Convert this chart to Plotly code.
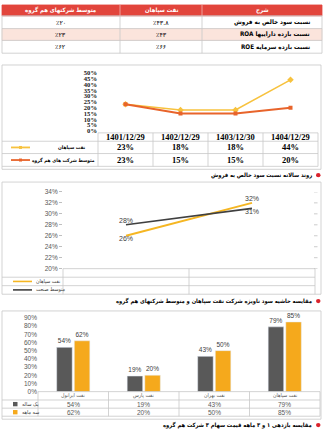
import plotly.graph_objects as go

W, H = 323, 433

# ---------------- data ----------------
table_header = ["شرح", "نفت سپاهان", "متوسط شرکتهای هم گروه"]
table_items = ["نسبت سود خالص به فروش", "نسبت بازده داراییها ROA", "نسبت بازده سرمایه ROE"]
table_sepahan = ["٪۴۳.۸", "٪۴۳", "٪۶۶"]
table_group = ["٪۲۰", "٪۲۳", "٪۶۲"]

c1_periods = ["1401/12/29", "1402/12/29", "1403/12/30", "1404/12/29"]
c1_names = ["نفت سپاهان", "متوسط شرکت های هم گروه"]
c1_sepahan = [23, 18, 18, 44]
c1_group = [23, 15, 15, 20]

c2_years = ["1401", "1404"]
c2_names = ["نفت سپاهان", "متوسط صنعت"]
c2_sepahan = [26, 32]
c2_industry = [28, 31]
c2_ticks = [20, 22, 24, 26, 28, 30, 32, 34]

c3_companies = ["نفت ایرانول", "نفت پارس", "نفت بهران", "نفت سپاهان"]
c3_names = ["یک ساله", "سه ماهه"]
c3_one_year = [54, 19, 43, 79]
c3_three_month = [62, 20, 50, 85]

captions = [
    "روند سالانه نسبت سود خالص به فروش",
    "مقایسه حاشیه سود ناویژه شرکت نفت سپاهان و متوسط شرکتهای هم گروه",
    "مقایسه بازدهی ۱ و ۳ ماهه قیمت سهام ۳ شرکت هم گروه",
]

# ---------------- style ----------------
FA = "DejaVu Sans"
FAC = "DejaVu Sans Condensed, DejaVu Sans"
SERIF = "Liberation Serif"
SANS = "Liberation Sans"
RED = "#e2453c"
PINK = "#fbe4dc"
GRID = "#c8c8c8"
C1_Y = "#f7c23e"
C1_O = "#e8642b"
C2_Y = "#f5b622"
C2_G = "#404040"
C3_G = "#595959"
C3_O = "#f5a91c"


def X(p):
    return p / W


def Y(p):
    return 1 - p / H


def rtl(s):
    return "\u202b" + s + "\u202c"


shapes = []
ann = []


def hline(x0, x1, y, color=GRID, w=0.8):
    shapes.append(dict(type="line", xref="paper", yref="paper", x0=X(x0), x1=X(x1),
                       y0=Y(y), y1=Y(y), line=dict(color=color, width=w)))


def vline(x, y0, y1, color=GRID, w=0.8):
    shapes.append(dict(type="line", xref="paper", yref="paper", x0=X(x), x1=X(x),
                       y0=Y(y0), y1=Y(y1), line=dict(color=color, width=w)))


def rect(x0, y0, x1, y1, fill="rgba(0,0,0,0)", color=GRID, w=0.8):
    shapes.append(dict(type="rect", xref="paper", yref="paper", x0=X(x0), x1=X(x1),
                       y0=Y(y1), y1=Y(y0), fillcolor=fill, line=dict(color=color, width=w),
                       layer="below"))


def txt(x, y, s, size=7, color="#000", family=FA, xanchor="center", weight="normal", xref="paper"):
    ann.append(dict(x=(X(x) if xref == "paper" else x), y=Y(y), xref=xref, yref="paper",
                    text=s, showarrow=False, xanchor=xanchor, yanchor="middle",
                    font=dict(size=size, color=color, family=family, weight=weight)))


# ---------------- top table ----------------
cols = [2, 120, 202, 322]
rows = [1, 12, 25, 37, 50]
rect(2, 1, 322, 12, fill=RED, color=RED)
rect(2, 25, 322, 37, fill=PINK, color=PINK)
for r in rows[1:]:
    hline(2, 322, r)
for c in cols:
    vline(c, 12, 50)
for c in cols[1:-1]:
    vline(c, 1, 12, color="#f3b5b0")
col_centers = [(cols[3] + cols[2]) / 2, (cols[2] + cols[1]) / 2, (cols[1] + cols[0]) / 2]
for i, h in enumerate(table_header):
    txt(col_centers[i], 6.6, rtl(h), size=6, color="white", weight="bold", family=FAC)
for i, item in enumerate(table_items):
    yc = (rows[i + 1] + rows[i + 2]) / 2
    txt(312, yc, rtl(item), size=6.3, xanchor="right", family=FAC, weight="bold")
    txt(col_centers[1], yc, table_sepahan[i], size=6.3)
    txt(col_centers[2], yc, table_group[i], size=6.3)

# ---------------- chart 1 ----------------
fig = go.Figure()
fig.add_trace(go.Scatter(x=c1_periods, y=c1_sepahan, mode="lines+markers",
                         line=dict(color=C1_Y, width=1.6),
                         marker=dict(symbol="diamond", size=5, color=C1_Y),
                         xaxis="x", yaxis="y", showlegend=False, hoverinfo="skip"))
fig.add_trace(go.Scatter(x=c1_periods, y=c1_group, mode="lines+markers",
                         line=dict(color=C1_O, width=2),
                         marker=dict(symbol="square", size=4, color=C1_O),
                         xaxis="x", yaxis="y", showlegend=False, hoverinfo="skip"))

c1_x0, c1_x1 = 98, 318
rect(2, 62, 321, 168)
hline(c1_x0, c1_x1, 131)
for r in [139.5, 152, 165]:
    hline(2, c1_x1, r)
n1 = len(c1_periods)
for i in range(n1 + 1):
    vline(c1_x0 + i * (c1_x1 - c1_x0) / n1, 131, 165)
for i, p in enumerate(c1_periods):
    txt(p, 135.3, p, size=8.5, family=SERIF, weight="bold", xref="x")
    txt(p, 145.8, f"{c1_sepahan[i]}%", size=8.5, family=SERIF, weight="bold", xref="x")
    txt(p, 158.6, f"{c1_group[i]}%", size=8.5, family=SERIF, weight="bold", xref="x")
for (yc, col, xr, name) in [(145.8, C1_Y, 88, c1_names[0]),
                            (158.6, C1_O, 97, c1_names[1])]:
    hline(11, 30, yc, color=col, w=1.8)
    shapes.append(dict(type="rect", xref="paper", yref="paper", x0=X(19), x1=X(22),
                       y0=Y(yc + 1.5), y1=Y(yc - 1.5), fillcolor=col, line=dict(color=col, width=0)))
    txt(xr, yc, rtl(name), size=4.9, xanchor="right", weight="bold", family=FAC)

# ---------------- chart 2 ----------------
fig.add_trace(go.Scatter(x=c2_years, y=c2_sepahan, mode="lines+text",
                         text=[f"{v}%" for v in c2_sepahan],
                         textposition=["bottom center", "top center"],
                         textfont=dict(size=7, color="#404040", family=SANS),
                         line=dict(color=C2_Y, width=2), cliponaxis=False,
                         xaxis="x2", yaxis="y2", showlegend=False, hoverinfo="skip"))
fig.add_trace(go.Scatter(x=c2_years, y=c2_industry, mode="lines+text",
                         text=[f"{v}%" for v in c2_industry],
                         textposition=["top center", "bottom center"],
                         textfont=dict(size=7, color="#404040", family=SANS),
                         line=dict(color=C2_G, width=1.6), cliponaxis=False,
                         xaxis="x2", yaxis="y2", showlegend=False, hoverinfo="skip"))

c2_x0, c2_x1 = 63, 315
rect(2, 181, 321, 295)
hline(c2_x0, c2_x1, 269)
for r in [277.7, 286.3]:
    hline(2, c2_x1, r)
n2 = len(c2_years)
for i in range(n2 + 1):
    vline(c2_x0 + i * (c2_x1 - c2_x0) / n2, 269, 295)
# small tick dashes on the right side of the plot, at the axis tick values
for t in c2_ticks:
    shapes.append(dict(type="line", xref="paper", yref="y2", x0=X(c2_x1 - 1), x1=X(c2_x1 + 2.5),
                       y0=t, y1=t, line=dict(color="#bfbfbf", width=0.8)))
for i, yv in enumerate(c2_years):
    txt(yv, 273.4, yv, size=6.5, family=SANS, color="#595959", xref="x2")
    txt(yv, 282.0, f"{c2_sepahan[i]}%", size=6.5, family=SANS, color="#595959", xref="x2")
    txt(yv, 290.6, f"{c2_industry[i]}%", size=6.5, family=SANS, color="#595959", xref="x2")
for (yc, col, name) in [(282.0, C2_Y, c2_names[0]), (290.6, C2_G, c2_names[1])]:
    hline(13, 32, yc, color=col, w=1.6)
    txt(34, yc, rtl(name), size=5.3, xanchor="left", color="#404040", family=FAC)

# ---------------- chart 3 ----------------
fig.add_trace(go.Bar(x=c3_companies, y=c3_one_year, marker=dict(color=C3_G),
                     text=[f"{v}%" for v in c3_one_year], textposition="outside",
                     textfont=dict(size=6.5, color="#404040", family=SANS), cliponaxis=False,
                     xaxis="x3", yaxis="y3", showlegend=False, hoverinfo="skip"))
fig.add_trace(go.Bar(x=c3_companies, y=c3_three_month, marker=dict(color=C3_O),
                     text=[f"{v}%" for v in c3_three_month], textposition="outside",
                     textfont=dict(size=6.5, color="#404040", family=SANS), cliponaxis=False,
                     xaxis="x3", yaxis="y3", showlegend=False, hoverinfo="skip"))

c3_x0, c3_x1 = 38, 320
rect(2, 312, 321, 422)
hline(c3_x0, c3_x1, 394)
for r in [402.5, 410.8, 419]:
    hline(2, c3_x1, r)
n3 = len(c3_companies)
for i in range(n3 + 1):
    vline(c3_x0 + i * (c3_x1 - c3_x0) / n3, 394, 419)
for i, c in enumerate(c3_companies):
    txt(c, 398.3, rtl(c), size=5.3, color="#595959", xref="x3", family=FAC)
    txt(c, 406.7, f"{c3_one_year[i]}%", size=6.5, family=SANS, color="#595959", xref="x3")
    txt(c, 414.9, f"{c3_three_month[i]}%", size=6.5, family=SANS, color="#595959", xref="x3")
for (yc, col, name) in [(406.7, C3_G, c3_names[0]), (414.9, C3_O, c3_names[1])]:
    shapes.append(dict(type="rect", xref="paper", yref="paper", x0=X(13), x1=X(17.5),
                       y0=Y(yc + 2.2), y1=Y(yc - 2.2), fillcolor=col, line=dict(color=col, width=0)))
    txt(20, yc, rtl(name), size=5.3, xanchor="left", color="#404040", family=FAC)

# ---------------- captions ----------------
for (yc, cap) in zip([174, 302, 428], captions):
    shapes.append(dict(type="circle", xref="paper", yref="paper", x0=X(316), x1=X(320.5),
                       y0=Y(yc + 2.2), y1=Y(yc - 2.2), fillcolor="#d9232d",
                       line=dict(color="#d9232d", width=0)))
    txt(314, yc, rtl(cap), size=5.8, xanchor="right", weight="bold", family=FAC)

# ---------------- layout ----------------
hidden_x = dict(showticklabels=False, showgrid=False, zeroline=False, showline=False,
                ticks="", type="category", fixedrange=True)
fig.update_layout(
    width=W, height=H, autosize=False,
    margin=dict(l=0, r=0, t=0, b=0),
    paper_bgcolor="white", plot_bgcolor="white",
    barmode="group", bargap=0.5, bargroupgap=0.12,
    shapes=shapes, annotations=ann,
    xaxis=dict(domain=[X(c1_x0), X(c1_x1)], anchor="y", range=[-0.5, 3.5], **hidden_x),
    yaxis=dict(domain=[Y(129), Y(70)], anchor="x", range=[0, 50], dtick=5, ticksuffix="%",
               showgrid=False, zeroline=False, showline=False, ticks="",
               tickfont=dict(family=SERIF, size=6.6, color="#222", weight="bold")),
    xaxis2=dict(domain=[X(c2_x0), X(c2_x1)], anchor="y2", range=[-0.5, 1.5], **hidden_x),
    yaxis2=dict(domain=[Y(269), Y(191)], anchor="x2", range=[20, 34], tickvals=c2_ticks,
                ticktext=[f"{t}%" for t in c2_ticks],
                showgrid=False, zeroline=False, showline=False, ticks="outside", ticklen=3,
                tickcolor="#bfbfbf",
                tickfont=dict(family=SANS, size=6.5, color="#595959")),
    xaxis3=dict(domain=[X(c3_x0), X(c3_x1)], anchor="y3", range=[-0.5, 3.5], **hidden_x),
    yaxis3=dict(domain=[Y(394), Y(319)], anchor="x3", range=[0, 90], dtick=10, ticksuffix="%",
                showgrid=False, zeroline=False, showline=False, ticks="",
                tickfont=dict(family=SANS, size=6.5, color="#595959")),
)

fig.write_html("out.html")
